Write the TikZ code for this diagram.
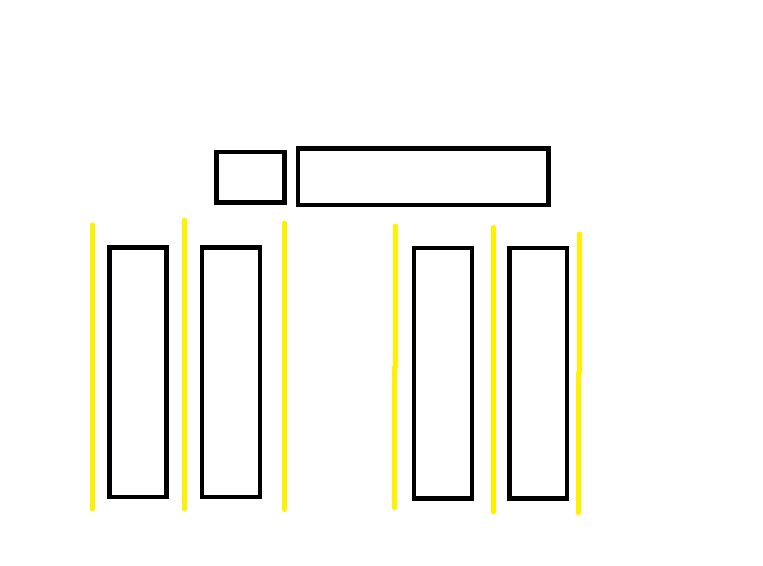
\documentclass[tikz,border=0pt]{standalone}
\definecolor{paintyellow}{RGB}{255,242,0}
\tikzset{box/.style={draw=black, line width=4.7pt},
  rail/.style={draw=paintyellow, line width=5pt, line cap=round}}

\begin{document}
\begin{tikzpicture}[x=1pt,y=-1pt]
\useasboundingbox (0,0) rectangle (763,565);
% top boxes
\draw [box] (216.5,152) rectangle (284.5,202.5);
\draw [box] (298,148.5) rectangle (548.5,205);
% left pair
\draw [box] (109.5,247.5) rectangle (166.5,497);
\draw [box] (202,247.5) rectangle (260,497);
\draw [rail] (92.5,225) -- (92.5,509);
\draw [rail] (184.3,220) -- (184.3,509);
\draw [rail] (284.3,223) -- (284.3,509.5);
% right pair
\draw [box] (414,248) rectangle (472,498.5);
\draw [box] (509.5,248) rectangle (567,498.5);
\draw [rail] (395.3,226) -- (395.3,367.5);
\draw [rail] (394.3,367.5) -- (394.3,507.8);
\draw [rail] (493.3,227.5) -- (493.3,512);
\draw [rail] (579.3,234) -- (579.3,373.5);
\draw [rail] (578.3,373.5) -- (578.3,513);
\end{tikzpicture}
\end{document}
